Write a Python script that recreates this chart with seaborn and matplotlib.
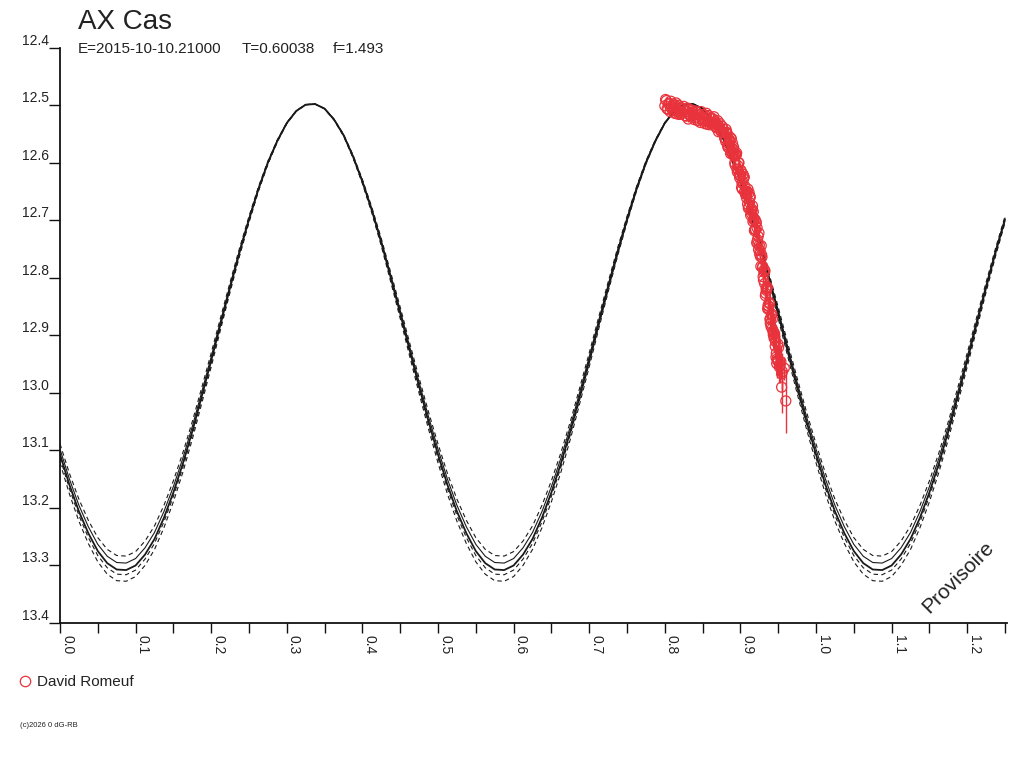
import numpy as np
import pandas as pd
import matplotlib
matplotlib.use("Agg")
import matplotlib.pyplot as plt
from matplotlib.lines import Line2D
import seaborn as sns

# ---------------- data ----------------
# model light curve (phase, magnitude), every 0.0125 in phase
model_phase = [round(0.0125 * i, 4) for i in range(101)]
model_mag = [
    13.107, 13.160, 13.206, 13.244, 13.275, 13.296, 13.307, 13.308, 13.300, 13.281,
    13.254, 13.217, 13.173, 13.123, 13.067, 13.006, 12.944, 12.880, 12.817, 12.756,
    12.699, 12.646, 12.600, 12.562, 12.531, 12.510, 12.499, 12.498, 12.506, 12.525,
    12.552, 12.589, 12.633, 12.683, 12.739, 12.800, 12.862, 12.926, 12.989, 13.050,
    13.107, 13.160, 13.206, 13.244, 13.275, 13.296, 13.307, 13.308, 13.300, 13.281,
    13.254, 13.217, 13.173, 13.123, 13.067, 13.006, 12.944, 12.880, 12.817, 12.756,
    12.699, 12.646, 12.600, 12.562, 12.531, 12.510, 12.499, 12.498, 12.506, 12.525,
    12.552, 12.589, 12.633, 12.683, 12.739, 12.800, 12.862, 12.926, 12.989, 13.050,
    13.107, 13.160, 13.206, 13.244, 13.275, 13.296, 13.307, 13.308, 13.300, 13.281,
    13.254, 13.217, 13.173, 13.123, 13.067, 13.006, 12.944, 12.880, 12.817, 12.756,
    12.699]
model_max = 12.497
# envelope curves: relative spread (fraction of depth below maximum) and style
env_factor = [-0.030, -0.015, 0.0, 0.010, 0.024]
env_style = ["dashed", "solid", "main", "dashed", "dashed"]

# observations by David Romeuf (four interleaved runs)
obs_phase_a = [0.800, 0.802, 0.804, 0.806, 0.808, 0.810, 0.812, 0.814, 0.816, 0.818,
               0.820, 0.822, 0.824, 0.826, 0.828, 0.830, 0.832, 0.834, 0.836, 0.838,
               0.840, 0.842, 0.844, 0.846, 0.848, 0.850, 0.852, 0.854, 0.856, 0.858,
               0.860, 0.862, 0.864, 0.866, 0.868, 0.870, 0.872, 0.874, 0.876, 0.878,
               0.880, 0.882, 0.884, 0.886, 0.888, 0.890, 0.892, 0.894, 0.896, 0.898,
               0.900, 0.902, 0.904, 0.906, 0.908, 0.910, 0.912, 0.914, 0.916, 0.918,
               0.920, 0.922, 0.924, 0.926, 0.928, 0.930, 0.932, 0.934, 0.936, 0.938,
               0.940, 0.942, 0.944, 0.946, 0.948, 0.950, 0.9545, 0.958, 0.960]
obs_mag_a = [12.501, 12.492, 12.507, 12.498, 12.493, 12.508, 12.505, 12.500, 12.515, 12.500,
             12.511, 12.515, 12.506, 12.510, 12.519, 12.505, 12.516, 12.519, 12.509, 12.516,
             12.521, 12.512, 12.527, 12.517, 12.511, 12.526, 12.523, 12.518, 12.533, 12.518,
             12.529, 12.533, 12.524, 12.529, 12.539, 12.527, 12.539, 12.545, 12.537, 12.547,
             12.557, 12.547, 12.573, 12.563, 12.558, 12.586, 12.588, 12.587, 12.616, 12.600,
             12.623, 12.635, 12.628, 12.641, 12.661, 12.646, 12.669, 12.682, 12.675, 12.697,
             12.716, 12.713, 12.751, 12.753, 12.760, 12.798, 12.810, 12.819, 12.854, 12.843,
             12.871, 12.888, 12.894, 12.919, 12.949, 12.943, 12.990, 12.957, 13.014]
obs_err_a = [0.005] * 30 + [0.006] * 15 + [0.007] * 7 + [0.008] * 5 + [0.009] * 3 + \
            [0.010, 0.010, 0.010, 0.011, 0.011, 0.012, 0.012, 0.013, 0.014, 0.015,
             0.016, 0.018, 0.020, 0.022, 0.025, 0.028, 0.045, 0.020, 0.055]

obs_phase_b = [0.801, 0.803, 0.805, 0.807, 0.809, 0.811, 0.813, 0.815, 0.817, 0.819,
               0.821, 0.823, 0.825, 0.827, 0.829, 0.831, 0.833, 0.835, 0.837, 0.839,
               0.841, 0.843, 0.845, 0.847, 0.849, 0.851, 0.853, 0.855, 0.857, 0.859,
               0.861, 0.863, 0.865, 0.867, 0.869, 0.871, 0.873, 0.875, 0.877, 0.879,
               0.881, 0.883, 0.885, 0.887, 0.889, 0.891, 0.893, 0.895, 0.897, 0.899,
               0.901, 0.903, 0.905, 0.907, 0.909, 0.911, 0.913, 0.915, 0.917, 0.919,
               0.921, 0.923, 0.925, 0.927, 0.929, 0.931, 0.933, 0.935, 0.937, 0.939,
               0.941, 0.943, 0.945, 0.947, 0.949]
obs_mag_b = [12.490, 12.506, 12.497, 12.511, 12.503, 12.498, 12.514, 12.496, 12.511, 12.516,
             12.504, 12.512, 12.502, 12.518, 12.511, 12.524, 12.507, 12.518, 12.512, 12.525,
             12.510, 12.526, 12.516, 12.530, 12.521, 12.516, 12.532, 12.514, 12.529, 12.534,
             12.522, 12.530, 12.520, 12.537, 12.532, 12.546, 12.532, 12.545, 12.541, 12.557,
             12.542, 12.569, 12.559, 12.584, 12.575, 12.573, 12.604, 12.583, 12.612, 12.626,
             12.615, 12.633, 12.625, 12.655, 12.651, 12.677, 12.660, 12.684, 12.685, 12.716,
             12.704, 12.741, 12.743, 12.780, 12.782, 12.790, 12.831, 12.818, 12.853, 12.872,
             12.865, 12.893, 12.897, 12.938, 12.944]
obs_err_b = [0.005] * 30 + [0.006] * 15 + [0.007] * 7 + [0.008] * 5 + [0.009] * 3 + \
            [0.010, 0.010, 0.010, 0.011, 0.011, 0.012, 0.012, 0.013, 0.014, 0.015,
             0.016, 0.018, 0.020, 0.022, 0.025]

obs_phase_c = [0.8805, 0.8825, 0.8845, 0.8865, 0.8885, 0.8905, 0.8925, 0.8945, 0.8965, 0.8985,
               0.9005, 0.9025, 0.9045, 0.9065, 0.9085, 0.9105, 0.9125, 0.9145, 0.9165, 0.9185,
               0.9205, 0.9225, 0.9245, 0.9265, 0.9285, 0.9305, 0.9325, 0.9345, 0.9365, 0.9385,
               0.9405, 0.9425, 0.9445, 0.9465, 0.9485, 0.9505, 0.9525, 0.9545]
obs_mag_c = [12.563, 12.550, 12.567, 12.556, 12.581, 12.577, 12.600, 12.586, 12.605, 12.621,
             12.613, 12.646, 12.625, 12.654, 12.654, 12.679, 12.658, 12.688, 12.702, 12.718,
             12.703, 12.734, 12.722, 12.763, 12.764, 12.804, 12.788, 12.822, 12.848, 12.845,
             12.885, 12.871, 12.905, 12.911, 12.941, 12.921, 12.952, 12.967]
obs_err_c = [0.007] * 10 + [0.009] * 10 + [0.013] * 10 + \
            [0.016, 0.018, 0.020, 0.022, 0.025, 0.027, 0.030, 0.032]

obs_phase_d = [0.8815, 0.8835, 0.8855, 0.8875, 0.8895, 0.8915, 0.8935, 0.8955, 0.8975, 0.8995,
               0.9015, 0.9035, 0.9055, 0.9075, 0.9095, 0.9115, 0.9135, 0.9155, 0.9175, 0.9195,
               0.9215, 0.9235, 0.9255, 0.9275, 0.9295, 0.9315, 0.9335, 0.9355, 0.9375, 0.9395,
               0.9415, 0.9435, 0.9455, 0.9475, 0.9495, 0.9515, 0.9535, 0.9555]
obs_mag_d = [12.548, 12.573, 12.562, 12.581, 12.566, 12.585, 12.585, 12.611, 12.600, 12.621,
             12.643, 12.620, 12.650, 12.649, 12.672, 12.652, 12.691, 12.681, 12.699, 12.699,
             12.739, 12.728, 12.759, 12.744, 12.780, 12.786, 12.827, 12.816, 12.850, 12.879,
             12.863, 12.899, 12.903, 12.931, 12.915, 12.955, 12.946, 12.963]
obs_err_d = [0.007] * 10 + [0.009] * 10 + [0.013] * 10 + \
            [0.016, 0.018, 0.020, 0.022, 0.025, 0.027, 0.030, 0.032]

x_ticks = [0.0, 0.1, 0.2, 0.3, 0.4, 0.5, 0.6, 0.7, 0.8, 0.9, 1.0, 1.1, 1.2]
y_ticks = [12.4, 12.5, 12.6, 12.7, 12.8, 12.9, 13.0, 13.1, 13.2, 13.3, 13.4]

title = "AX Cas"
sub_e = "E=2015-10-10.21000"
sub_t = "T=0.60038"
sub_f = "f=1.493"
observer = "David Romeuf"
stamp = "Provisoire"
copyright_txt = "(c)2026 0 dG-RB"

# ---------------- style ----------------
sns.set_style("white")
plt.rcParams["font.family"] = ["Liberation Sans", "DejaVu Sans"]
TXT = "#222222"
RED = "#E8333C"

W, H = 1024, 768
fig = plt.figure(figsize=(W / 100, H / 100), dpi=100)
ax = fig.add_axes([60 / W, 145 / H, 947 / W, 575.3 / H])

# model curves
for f, st in zip(env_factor, env_style):
    d = pd.DataFrame({"phase": model_phase,
                      "mag": [m + f * (m - model_max) for m in model_mag]})
    if st == "main":
        sns.lineplot(data=d, x="phase", y="mag", ax=ax, color="#1a1a1a",
                     lw=1.3, estimator=None, sort=False, zorder=2)
    elif st == "solid":
        sns.lineplot(data=d, x="phase", y="mag", ax=ax, color="#1a1a1a",
                     lw=0.8, estimator=None, sort=False, zorder=2)
    else:
        sns.lineplot(data=d, x="phase", y="mag", ax=ax, color="#1a1a1a",
                     lw=0.8, estimator=None, sort=False, zorder=2,
                     linestyle=(0, (4, 3)))

# observations
obs_df = pd.DataFrame({
    "phase": obs_phase_a + obs_phase_b + obs_phase_c + obs_phase_d,
    "mag": obs_mag_a + obs_mag_b + obs_mag_c + obs_mag_d,
    "err": obs_err_a + obs_err_b + obs_err_c + obs_err_d,
})
ax.errorbar(obs_df["phase"], obs_df["mag"], yerr=obs_df["err"], fmt="none",
            ecolor=RED, elinewidth=1.0, capsize=0, zorder=3)
sns.scatterplot(data=obs_df, x="phase", y="mag", ax=ax, marker="o", s=52,
                facecolors="none", edgecolor=RED, linewidth=0.9, zorder=4)

# axes
ax.set_xlim(0, 1.2526)
ax.set_ylim(13.4, 12.4)
ax.set_xlabel("")
ax.set_ylabel("")
for s in ["top", "right"]:
    ax.spines[s].set_visible(False)
for s in ["left", "bottom"]:
    ax.spines[s].set_color("#111111")
    ax.spines[s].set_linewidth(1.3)

ax.set_xticks(x_ticks)
ax.set_xticklabels([f"{v:.1f}" for v in x_ticks], rotation=270, ha="left",
                   va="top", color=TXT, fontsize=10)
ax.set_xticks([v + 0.05 for v in x_ticks], minor=True)
ax.tick_params(axis="x", which="both", direction="out", length=7.5, width=1.0,
               color="#111111", pad=1, bottom=True)
ax.set_yticks(y_ticks)
ax.set_yticklabels([f"{v:.1f}" for v in y_ticks], color=TXT, fontsize=10)
for lbl in ax.get_yticklabels():
    lbl.set_va("bottom")
ax.tick_params(axis="y", which="major", direction="out", length=8, width=1.0,
               color="#111111", pad=0, left=True)
ax.grid(False)

# texts
fig.text(78 / W, 1 - 29 / H, title, fontsize=20, color=TXT, va="baseline")
fig.text(78 / W, 1 - 53 / H, sub_e, fontsize=11, color=TXT, va="baseline")
fig.text(242 / W, 1 - 53 / H, sub_t, fontsize=11, color=TXT, va="baseline")
fig.text(333 / W, 1 - 53 / H, sub_f, fontsize=11, color=TXT, va="baseline")
fig.text(958 / W, 1 - 577 / H, stamp, fontsize=15, color=TXT, rotation=45,
         ha="center", va="center")
fig.text(20 / W, 1 - 727 / H, copyright_txt, fontsize=5.5, color=TXT,
         va="baseline")

handle = Line2D([], [], marker="o", linestyle="none", markerfacecolor="none",
                markeredgecolor=RED, markersize=7.5, markeredgewidth=0.9)
fig.legend([handle], [observer], loc="center left",
           bbox_to_anchor=(10 / W, 1 - 682 / H), frameon=False, fontsize=11,
           handlelength=1.0, handletextpad=0.25, borderpad=0, labelcolor=TXT)

fig.savefig("out.png", dpi=100, facecolor="white")
